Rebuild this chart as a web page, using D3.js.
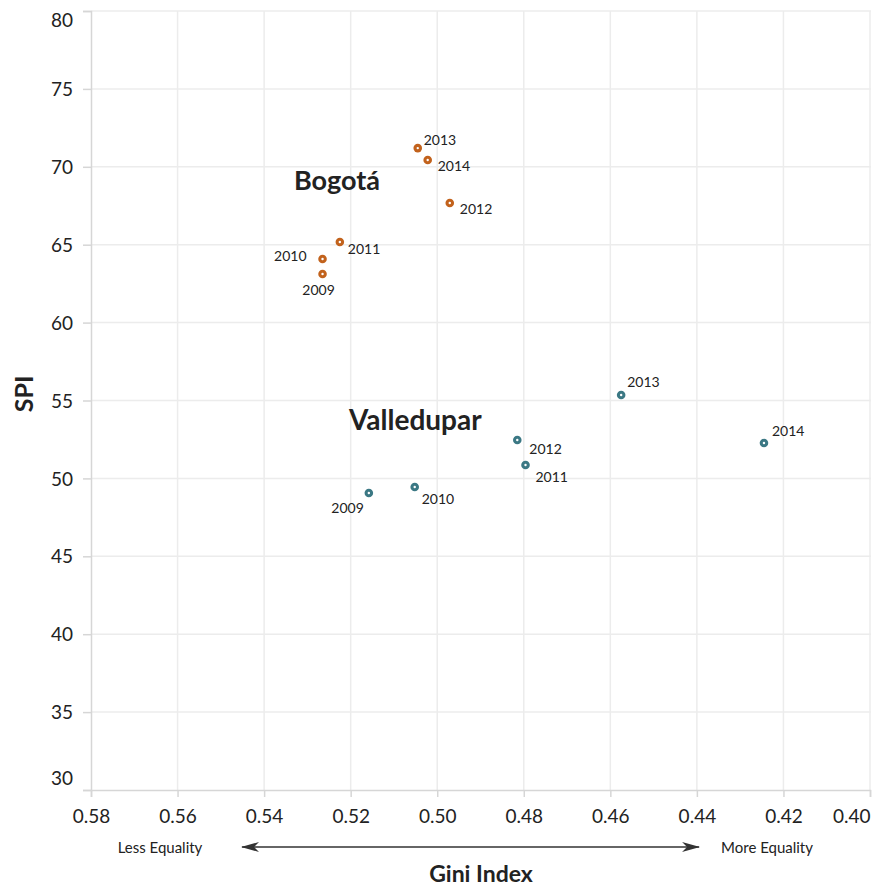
<!DOCTYPE html>
<html><head><meta charset="utf-8">
<script src="https://cdn.jsdelivr.net/npm/d3@7"></script>
<style>body{margin:0;background:#fff;} text{font-family:Lato,"Open Sans",sans-serif;}</style>
</head><body><svg id="c" width="872" height="892"></svg>
<script>
const years = [2009, 2010, 2011, 2012, 2013, 2014];
const bogotaGini = [0.5265, 0.5265, 0.5225, 0.4971, 0.5045, 0.5022];
const bogotaSPI  = [63.12, 64.08, 65.17, 67.68, 71.2, 70.44];
const valleGini  = [0.5158, 0.5052, 0.4796, 0.4815, 0.4575, 0.4245];
const valleSPI   = [49.06, 49.45, 50.86, 52.46, 55.35, 52.27];
// label offsets per point [dx, dy, anchor]
const bogotaLab = [[-4,21,"middle"],[-16,2,"end"],[8,12,"start"],[10,11,"start"],[6,-3,"start"],[10,11,"start"]];
const valleLab  = [[-5,20,"end"],[7,17,"start"],[10,17,"start"],[12,14,"start"],[6,-8,"start"],[8,-7,"start"]];
const xTicks = [0.58,0.56,0.54,0.52,0.50,0.48,0.46,0.44,0.42,0.40];
const yTicks = [30,35,40,45,50,55,60,65,70,75,80];

const svg = d3.select("#c");
const x = d3.scaleLinear().domain([0.58,0.40]).range([91,870]);
const y = d3.scaleLinear().domain([30,80]).range([790,11]);

// grid
svg.append("g").selectAll("line").data(xTicks.slice(1)).join("line")
  .attr("x1",d=>x(d)).attr("x2",d=>x(d)).attr("y1",11).attr("y2",790)
  .attr("stroke","#ececec").attr("stroke-width",1.5);
svg.append("g").selectAll("line").data(yTicks.slice(1)).join("line")
  .attr("x1",91).attr("x2",871).attr("y1",d=>y(d)).attr("y2",d=>y(d))
  .attr("stroke","#ececec").attr("stroke-width",1.5);

// axes
const ya = svg.append("g").attr("transform","translate(91,0)")
  .call(d3.axisLeft(y).tickValues(yTicks).tickSize(8).tickPadding(10).tickFormat(d3.format("d")));
ya.select(".domain").attr("stroke","#d6d6d6").attr("stroke-width",1.5);
ya.selectAll(".tick line").attr("stroke","#d6d6d6").attr("stroke-width",1.5);
ya.selectAll(".tick text").attr("font-size",19).attr("fill","#222")
  .attr("font-family","Lato,sans-serif")
  .attr("dy",d=>d===80?"0.8em":d===30?"-0.3em":"0.35em");

const xa = svg.append("g").attr("transform","translate(0,790)")
  .call(d3.axisBottom(x).tickValues(xTicks).tickSize(7).tickPadding(13).tickFormat(d3.format(".2f")));
xa.select(".domain").attr("stroke","#d6d6d6").attr("stroke-width",1.5);
xa.selectAll(".tick line").attr("stroke","#d6d6d6").attr("stroke-width",1.5);
xa.selectAll(".tick text").attr("font-size",19).attr("fill","#222")
  .attr("font-family","Lato,sans-serif")
  .attr("text-anchor",d=>d===0.40?"end":"middle");

// axis titles
svg.append("text").attr("transform","translate(33,394) rotate(-90)")
  .attr("text-anchor","middle").attr("font-size",25).attr("font-weight","bold").attr("fill","#222").text("SPI");
svg.append("text").attr("x",481).attr("y",882).attr("text-anchor","middle")
  .attr("font-size",23).attr("font-weight","bold").attr("fill","#222").text("Gini Index");
svg.append("text").attr("x",160).attr("y",853).attr("text-anchor","middle")
  .attr("font-size",15).attr("fill","#222").text("Less Equality");
svg.append("text").attr("x",767).attr("y",853).attr("text-anchor","middle")
  .attr("font-size",15).attr("fill","#222").text("More Equality");

// arrow
const defs = svg.append("defs");
defs.append("marker").attr("id","ah").attr("viewBox","0 0 18 12").attr("refX",17).attr("refY",6)
  .attr("markerWidth",18).attr("markerHeight",12).attr("orient","auto-start-reverse")
  .attr("markerUnits","userSpaceOnUse")
  .append("path").attr("d","M0,1 L18,6 L0,11 L5,6 Z").attr("fill","#333");
svg.append("line").attr("x1",x(0.5451)).attr("x2",x(0.4395)).attr("y1",847).attr("y2",847)
  .attr("stroke","#333").attr("stroke-width",1.6)
  .attr("marker-start","url(#ah)").attr("marker-end","url(#ah)");

function series(gini, spi, labs, color, name, nx, ny, fs) {
  const g = svg.append("g");
  const pts = years.map((yr,i)=>({yr, gx:gini[i], sy:spi[i], lab:labs[i]}));
  g.selectAll("circle.o").data(pts).join("circle").attr("class","o")
    .attr("cx",d=>x(d.gx)).attr("cy",d=>y(d.sy)).attr("r",4.3).attr("fill",color);
  g.selectAll("circle.i").data(pts).join("circle").attr("class","i")
    .attr("cx",d=>x(d.gx)).attr("cy",d=>y(d.sy)).attr("r",1.2).attr("fill","#fff");
  g.selectAll("text").data(pts).join("text")
    .attr("x",d=>x(d.gx)+d.lab[0]).attr("y",d=>y(d.sy)+d.lab[1])
    .attr("text-anchor",d=>d.lab[2]).attr("font-size",14).attr("fill","#222").text(d=>d.yr);
  svg.append("text").attr("x",nx).attr("y",ny).attr("font-size",fs).attr("font-weight","bold")
    .attr("fill","#222").text(name);
}
series(bogotaGini, bogotaSPI, bogotaLab, "#c2621c", "Bogotá", 294, 190, 27);
series(valleGini, valleSPI, valleLab, "#3b7884", "Valledupar", 349, 430, 28);
</script></body></html>
